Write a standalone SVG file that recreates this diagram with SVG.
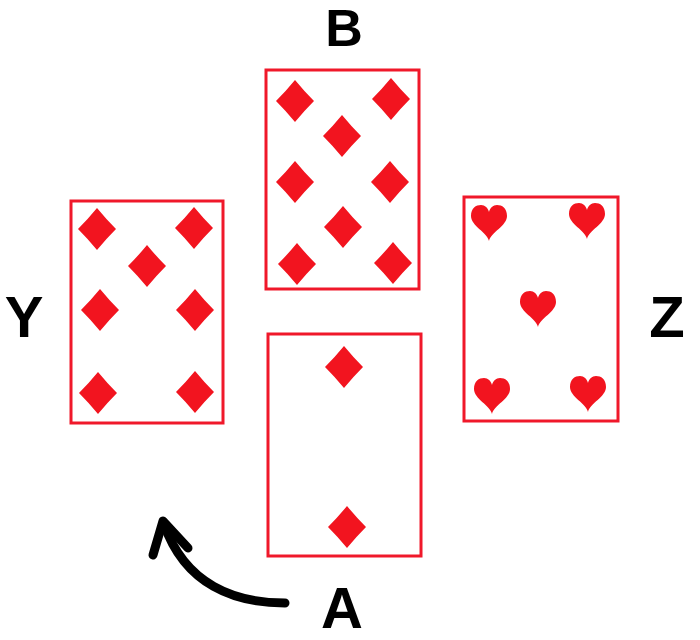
<svg xmlns="http://www.w3.org/2000/svg" xmlns:xlink="http://www.w3.org/1999/xlink" width="700" height="640" viewBox="0 0 700 640">
  <style>
    .card { fill: #ffffff; stroke: #f0182a; stroke-width: 3; }
    .pip { fill: #f2141f; }
    .label { font-family: "Liberation Sans", Arial, sans-serif; font-weight: bold; font-size: 58px; fill: #000; text-anchor: middle; }
    .arrow { fill: none; stroke: #000; stroke-width: 9; stroke-linecap: round; stroke-linejoin: round; }
  </style>
  <defs>
    <path id="diamond" d="M0,-21 Q9,-10 19,0 Q9,10 0,21 Q-9,10 -19,0 Q-9,-10 0,-21 Z"/>
    <path id="heart" d="M0,19 C-2,10 -18,4 -18,-6 C-18,-14 -13,-17 -8,-17 C-4,-17 -1,-14 0,-10 C1,-14 4,-17 8,-17 C13,-17 18,-14 18,-6 C18,4 2,10 0,19 Z"/>
  </defs>
  <rect width="700" height="640" fill="#ffffff"/>

  <g id="card-B">
    <rect class="card" x="266" y="70" width="153" height="219"/>
    <g class="pip">
      <use xlink:href="#diamond" x="295" y="101"/>
      <use xlink:href="#diamond" x="391" y="99"/>
      <use xlink:href="#diamond" x="342" y="136"/>
      <use xlink:href="#diamond" x="295" y="182"/>
      <use xlink:href="#diamond" x="390" y="182"/>
      <use xlink:href="#diamond" x="343" y="227"/>
      <use xlink:href="#diamond" x="297" y="264"/>
      <use xlink:href="#diamond" x="393" y="263"/>
    </g>
  </g>

  <g id="card-Y">
    <rect class="card" x="71" y="201" width="152" height="222"/>
    <g class="pip">
      <use xlink:href="#diamond" x="97" y="229"/>
      <use xlink:href="#diamond" x="194" y="228"/>
      <use xlink:href="#diamond" x="147" y="266"/>
      <use xlink:href="#diamond" x="100" y="310"/>
      <use xlink:href="#diamond" x="195" y="310"/>
      <use xlink:href="#diamond" x="98" y="393"/>
      <use xlink:href="#diamond" x="195" y="392"/>
    </g>
  </g>

  <g id="card-Z">
    <rect class="card" x="464" y="197" width="154" height="224"/>
    <g class="pip">
      <use xlink:href="#heart" x="489" y="222"/>
      <use xlink:href="#heart" x="587" y="220"/>
      <use xlink:href="#heart" x="538" y="308"/>
      <use xlink:href="#heart" x="492" y="395"/>
      <use xlink:href="#heart" x="588" y="393"/>
    </g>
  </g>

  <g id="card-A">
    <rect class="card" x="268" y="334" width="153" height="222"/>
    <g class="pip">
      <use xlink:href="#diamond" x="344" y="367"/>
      <use xlink:href="#diamond" x="347" y="527"/>
    </g>
  </g>

  <g id="labels">
    <text id="label-B" class="label" x="344" y="46" style="font-size:52px">B</text>
    <text id="label-Y" class="label" x="24" y="337">Y</text>
    <text id="label-Z" class="label" x="667" y="337">Z</text>
    <text id="label-A" class="label" x="342" y="628">A</text>
  </g>

  <g id="connectors">
    <path class="arrow" d="M285,603 C235,603 185,585 164,524"/>
    <path class="arrow" d="M153,555 L163,521 L188,548"/>
  </g>
</svg>
